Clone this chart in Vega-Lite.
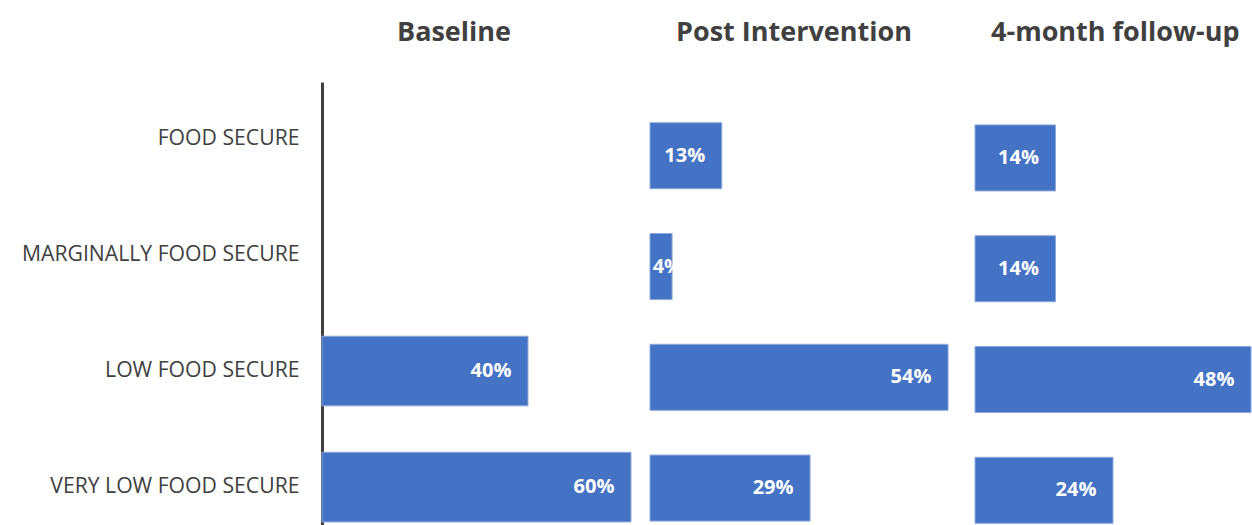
{
  "$schema": "https://vega.github.io/schema/vega-lite/v6.json",
  "background": "white",
  "padding": {"left": 21, "top": 19, "right": 0, "bottom": 0},
  "spacing": 0,
  "config": {
    "view": {"stroke": null},
    "font": "Open Sans",
    "title": {"font": "Open Sans", "fontSize": 27, "fontWeight": "bold", "color": "#404040", "anchor": "start", "frame": "group", "offset": 35}
  },
  "datasets": {
    "food": [
      {"period": "Baseline", "status": "LOW FOOD SECURE", "value": 0.40},
      {"period": "Baseline", "status": "VERY LOW FOOD SECURE", "value": 0.60},
      {"period": "Post Intervention", "status": "FOOD SECURE", "value": 0.13},
      {"period": "Post Intervention", "status": "MARGINALLY FOOD SECURE", "value": 0.04},
      {"period": "Post Intervention", "status": "LOW FOOD SECURE", "value": 0.54},
      {"period": "Post Intervention", "status": "VERY LOW FOOD SECURE", "value": 0.29},
      {"period": "4-month follow-up", "status": "FOOD SECURE", "value": 0.14},
      {"period": "4-month follow-up", "status": "MARGINALLY FOOD SECURE", "value": 0.14},
      {"period": "4-month follow-up", "status": "LOW FOOD SECURE", "value": 0.48},
      {"period": "4-month follow-up", "status": "VERY LOW FOOD SECURE", "value": 0.24}
    ]
  },
  "hconcat": [
    {
      "title": {"text": "Baseline", "dx": 75},
      "width": 327,
      "height": 462,
      "data": {"name": "food"},
      "transform": [{"filter": "datum.period === 'Baseline'"}],
      "encoding": {
        "y": {
          "field": "status", "type": "nominal",
          "scale": {"domain": ["FOOD SECURE", "MARGINALLY FOOD SECURE", "LOW FOOD SECURE", "VERY LOW FOOD SECURE"], "paddingInner": 0.4, "paddingOuter": 0.19, "align": 0.5},
          "axis": {"title": null, "ticks": false, "labelFont": "Open Sans", "labelFontSize": 21.2, "labelColor": "#404040", "labelPadding": 23, "domainColor": "#404040", "domainWidth": 3, "labelLimit": 400}
        },
        "x": {"field": "value", "type": "quantitative", "scale": {"domain": [0, 0.635], "nice": false, "zero": true}, "axis": null}
      },
      "layer": [
        {"mark": {"type": "bar", "color": "#4472C4", "stroke": "#8EA9DB", "strokeWidth": 1}},
        {"transform": [{"filter": "datum.value >= 0.08"}], "mark": {"type": "text", "color": "white", "fontWeight": "bold", "fontSize": 20, "align": "center", "baseline": "middle", "dx": -37}, "encoding": {"text": {"field": "value", "type": "quantitative", "format": ".0%"}}}
      ]
    },
    {
      "title": {"text": "Post Intervention", "dx": 26},
      "width": 324,
      "height": 462,
      "data": {"name": "food"},
      "transform": [{"filter": "datum.period === 'Post Intervention'"}],
      "encoding": {
        "y": {
          "field": "status", "type": "nominal",
          "scale": {"domain": ["FOOD SECURE", "MARGINALLY FOOD SECURE", "LOW FOOD SECURE", "VERY LOW FOOD SECURE"], "paddingInner": 0.404, "paddingOuter": 0.287, "align": 0.64},
          "axis": null
        },
        "x": {"field": "value", "type": "quantitative", "scale": {"domain": [0, 0.587], "nice": false, "zero": true}, "axis": null}
      },
      "layer": [
        {"mark": {"type": "bar", "color": "#4472C4", "stroke": "#8EA9DB", "strokeWidth": 1}},
        {"transform": [{"filter": "datum.value >= 0.08"}], "mark": {"type": "text", "color": "white", "fontWeight": "bold", "fontSize": 20, "align": "center", "baseline": "middle", "dx": -37}, "encoding": {"text": {"field": "value", "type": "quantitative", "format": ".0%"}}},
        {"transform": [{"filter": "datum.value < 0.08"}], "mark": {"type": "text", "color": "white", "fontWeight": "bold", "fontSize": 20, "align": "right", "baseline": "middle", "dx": 10}, "encoding": {"text": {"field": "value", "type": "quantitative", "format": ".0%"}}}
      ]
    },
    {
      "title": {"text": "4-month follow-up", "dx": 16},
      "width": 277,
      "height": 462,
      "data": {"name": "food"},
      "transform": [{"filter": "datum.period === '4-month follow-up'"}],
      "encoding": {
        "y": {
          "field": "status", "type": "nominal",
          "scale": {"domain": ["FOOD SECURE", "MARGINALLY FOOD SECURE", "LOW FOOD SECURE", "VERY LOW FOOD SECURE"], "paddingInner": 0.404, "paddingOuter": 0.287, "align": 0.675},
          "axis": null
        },
        "x": {"field": "value", "type": "quantitative", "scale": {"domain": [0, 0.4817], "nice": false, "zero": true}, "axis": null}
      },
      "layer": [
        {"mark": {"type": "bar", "color": "#4472C4", "stroke": "#8EA9DB", "strokeWidth": 1}},
        {"transform": [{"filter": "datum.value >= 0.08"}], "mark": {"type": "text", "color": "white", "fontWeight": "bold", "fontSize": 20, "align": "center", "baseline": "middle", "dx": -37}, "encoding": {"text": {"field": "value", "type": "quantitative", "format": ".0%"}}}
      ]
    }
  ]
}
